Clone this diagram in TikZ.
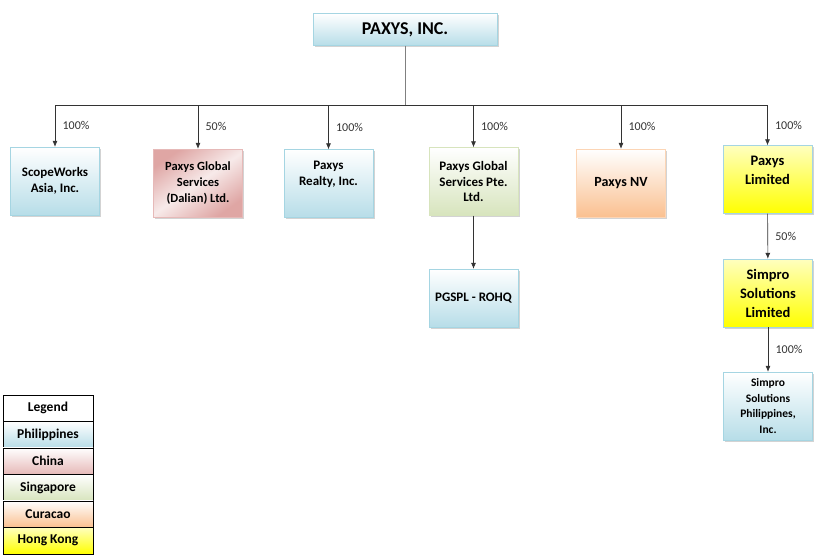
\documentclass[tikz,border=0pt]{standalone}
\usepackage{fontspec}
\setmainfont{Carlito}
\usepackage{tikz}
\usetikzlibrary{positioning, arrows.meta, shadows}

\definecolor{phblue}{HTML}{B7DDE8}
\definecolor{phline}{HTML}{A5D5E2}
\definecolor{cnred}{HTML}{D99694}
\definecolor{cnpink}{HTML}{F2DCDB}
\definecolor{cnrow}{HTML}{E6B9B8}
\definecolor{sggreen}{HTML}{D7E4BD}
\definecolor{cwpeach}{HTML}{FAC090}
\definecolor{cwline}{HTML}{FCD5B5}
\definecolor{hkyellow}{HTML}{FFFF00}

\begin{document}
\begin{tikzpicture}[x=1pt, y=-1pt, >={Latex[length=6pt,width=5pt]},
    firm/.style={draw, rectangle, minimum width=89pt, minimum height=68pt, align=center,
        font=\bfseries\fontsize{13}{15.5}\selectfont,
        drop shadow={shadow xshift=1.5pt, shadow yshift=-1.5pt, opacity=0.35}},
    ph/.style={firm, draw=phline, top color=white, bottom color=phblue},
    cn/.style={firm, draw=cnrow, left color=cnred!85, right color=cnred!85,
        middle color=cnpink!60, shading angle=35},
    sg/.style={firm, draw=sggreen, top color=white, bottom color=sggreen},
    cw/.style={firm, draw=cwline, top color=white, bottom color=cwpeach},
    hk/.style={firm, draw=phline, top color=hkyellow!25, bottom color=hkyellow,
        font=\bfseries\fontsize{14.5}{19}\selectfont},
    key/.style={draw=black, minimum width=90pt, minimum height=26.5pt, outer sep=0pt,
        font=\bfseries\fontsize{13.5}{15}\selectfont},
    pct/.style={right, xshift=4pt, font=\fontsize{12}{14}\selectfont},
    link/.style={->, black!80, line width=0.6pt}]
    \useasboundingbox (0,0) rectangle (838,558);

    \node [ph, minimum width=184pt, minimum height=32pt,
        font=\bfseries\fontsize{18}{20}\selectfont] (paxys) at (405,29.5) {PAXYS, INC.};
    \node [ph] (scope) at (55,181) {ScopeWorks\\Asia, Inc.};
    \node [cn, font=\bfseries\fontsize{12.5}{16}\selectfont] (dalian) at (198,183) {Paxys Global\\Services\\(Dalian) Ltd.};
    \node [ph, text depth=20pt] (realty) at (328.5,183.5) {Paxys\\Realty, Inc.};
    \node [sg] (pgspte) at (473.5,181.5) {Paxys Global\\Services Pte.\\Ltd.};
    \node [cw, font=\bfseries\fontsize{14}{16}\selectfont] (nv) at (621,183) {Paxys NV};
    \node [hk, text depth=18pt] (plimited) at (767.5,179.5) {Paxys\\Limited};
    \node [ph, minimum height=58pt] (rohq) at (473.5,298) {PGSPL - ROHQ};
    \node [hk] (simpro) at (768,293) {Simpro\\Solutions\\Limited};
    \node [ph, font=\bfseries\fontsize{11.5}{15.5}\selectfont] (simproph) at (768,406) {Simpro\\Solutions\\Philippines,\\Inc.};

    % ownership bus
    \coordinate (bus) at (405,105);
    \draw [gray, line width=0.6pt] (paxys) -- (bus);
    \draw [black!80, line width=0.6pt] (scope.north |- bus) -- (plimited.north |- bus);

    \draw [link] (scope.north |- bus) -- node[pct] {100\%} (scope);
    \draw [link] (dalian.north |- bus) -- node[pct] {50\%} (dalian);
    \draw [link] (realty.north |- bus) -- node[pct] {100\%} (realty);
    \draw [link] (pgspte.north |- bus) -- node[pct] {100\%} (pgspte);
    \draw [link] (nv.north |- bus) -- node[pct] {100\%} (nv);
    \draw [link] (plimited.north |- bus) -- node[pct] {100\%} (plimited);
    \draw [link] (pgspte) -- (rohq);
    \draw [link] (plimited) -- node[pct] {50\%} (simpro);
    \draw [link] (simpro) -- node[pct] {100\%} (simproph);

    % legend
    \node [key, fill=white] (legend) at (48,408) {Legend};
    \node [key, below=0pt of legend, top color=white, bottom color=phblue] (keyph) {Philippines};
    \node [key, below=0pt of keyph, top color=white, bottom color=cnrow] (keycn) {China};
    \node [key, below=0pt of keycn, top color=white, bottom color=sggreen] (keysg) {Singapore};
    \node [key, below=0pt of keysg, top color=white, bottom color=cwpeach] (keycw) {Curacao};
    \node [key, below=0pt of keycw, top color=hkyellow!25, bottom color=hkyellow] (keyhk) {Hong Kong};
\end{tikzpicture}
\end{document}
